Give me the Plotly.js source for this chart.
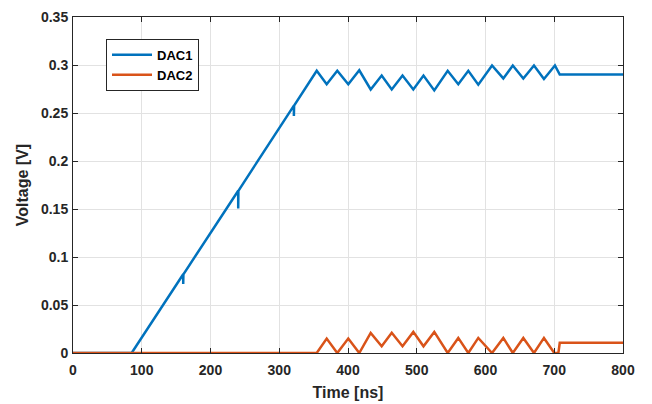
<!DOCTYPE html>
<html>
<head>
<meta charset="utf-8">
<script src="https://cdn.plot.ly/plotly-3.0.1.min.js"></script>
<style>
html,body{margin:0;padding:0;background:#fff;}
#chart{width:652px;height:404px;}
</style>
</head>
<body>
<div id="chart"></div>
<script>
// DAC1 (ramp with glitches, then ripple, then settle)
var dac1Time = [0, 85.3, 160.3, 160.3, 160.6, 240.3, 240.3, 240.6, 321.3, 321.3, 321.6, 354.5,
  369, 384.4, 400.4, 416.4, 433, 449, 463.6, 479.3, 495, 509.8, 525.5, 545, 560.4, 575, 589.5,
  609.5, 625.9, 639.7, 655, 670.5, 685, 701, 708, 800];
var dac1Volt = [0, 0, 0.0820, 0.0720, 0.0820, 0.1690, 0.1505, 0.1690, 0.2577, 0.2470, 0.2577, 0.2940,
  0.2800, 0.2940, 0.2800, 0.2945, 0.2745, 0.2890, 0.2745, 0.2890, 0.2745, 0.2890, 0.2735, 0.2940, 0.2800, 0.2940, 0.2795,
  0.2995, 0.2860, 0.2995, 0.2860, 0.2995, 0.2855, 0.2995, 0.2900, 0.2900];

// DAC2 (flat, ripple complementary to DAC1, then settle)
var dac2Time = [0, 354.5, 369, 384.4, 400.4, 416.4, 433, 449, 463.6, 479.3, 495, 509.8, 525.5,
  545, 560.4, 575, 589.5, 609.5, 625.9, 639.7, 655, 670.5, 685, 700, 706, 708, 800];
var dac2Volt = [0, 0, 0.0150, 0, 0.0150, 0, 0.0210, 0.0070, 0.0210, 0.0070, 0.0220, 0.0070, 0.0220,
  0, 0.0157, 0, 0.0157, 0, 0.0157, 0, 0.0157, 0, 0.0157, 0, 0, 0.0106, 0.0106];

var seriesNames = ['DAC1', 'DAC2'];
var seriesColors = ['#0072BD', '#D95319'];

var xTicks = [0, 100, 200, 300, 400, 500, 600, 700, 800];
var yTicks = [0, 0.05, 0.1, 0.15, 0.2, 0.25, 0.3, 0.35];
var yTickText = ['0', '0.05', '0.1', '0.15', '0.2', '0.25', '0.3', '0.35'];

var fontFam = 'Liberation Sans, Arial, Helvetica, sans-serif';
var axisColor = '#262626';

var traces = [
  {x: dac1Time, y: dac1Volt, type: 'scatter', mode: 'lines', name: seriesNames[0],
   line: {color: seriesColors[0], width: 2.5}},
  {x: dac2Time, y: dac2Volt, type: 'scatter', mode: 'lines', name: seriesNames[1],
   line: {color: seriesColors[1], width: 2.5}}
];

function axisCommon() {
  return {
    showgrid: true, gridcolor: '#e2e2e2', gridwidth: 1,
    showline: true, linecolor: axisColor, linewidth: 1, mirror: 'ticks',
    ticks: 'inside', ticklen: 5, tickcolor: axisColor, tickwidth: 1,
    zeroline: false,
    tickfont: {family: fontFam, size: 14, color: axisColor, weight: 'bold'}
  };
}

var xa = axisCommon();
xa.range = [0, 800];
xa.tickmode = 'array';
xa.tickvals = xTicks;
xa.ticktext = xTicks.map(String);
xa.ticklabelstandoff = 4;
xa.title = {text: 'Time [ns]', font: {family: fontFam, size: 16, color: axisColor, weight: 'bold'}, standoff: 10};

var ya = axisCommon();
ya.range = [0, 0.35];
ya.tickmode = 'array';
ya.tickvals = yTicks;
ya.ticktext = yTickText;
ya.ticklabelstandoff = 1;
ya.title = {text: 'Voltage [V]', font: {family: fontFam, size: 16, color: axisColor, weight: 'bold'}, standoff: 8};

var layout = {
  width: 652, height: 404,
  margin: {l: 73, r: 29, t: 17, b: 51, pad: 0},
  paper_bgcolor: '#ffffff', plot_bgcolor: '#ffffff',
  xaxis: xa, yaxis: ya,
  showlegend: true,
  legend: {
    x: 0.06, y: 0.935, xanchor: 'left', yanchor: 'top',
    bgcolor: '#ffffff', bordercolor: axisColor, borderwidth: 1,
    font: {family: fontFam, size: 13, color: '#000000', weight: 'bold'},
    tracegroupgap: 0, itemwidth: 40
  },
  hovermode: false
};

Plotly.newPlot('chart', traces, layout, {displayModeBar: false, staticPlot: true});
</script>
</body>
</html>
